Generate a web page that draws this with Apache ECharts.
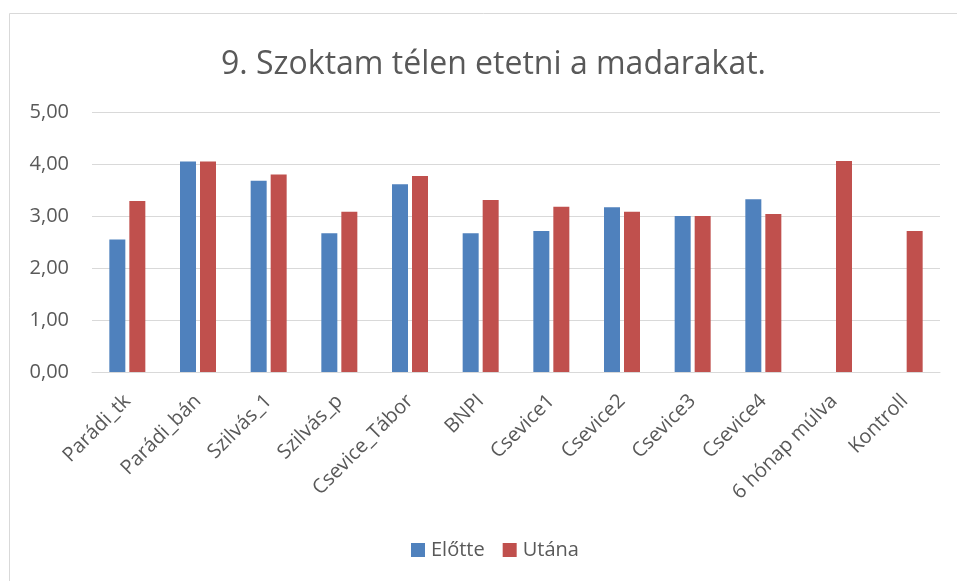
<!DOCTYPE html>
<html>
<head>
<meta charset="utf-8">
<script src="https://cdn.jsdelivr.net/npm/echarts@6/dist/echarts.min.js"></script>
<style>html,body{margin:0;padding:0;background:#fff;}#c{width:957px;height:581px;}</style>
</head>
<body>
<div id="c"></div>
<script>
var categories = ['Parádi_tk','Parádi_bán','Szilvás_1','Szilvás_p','Csevice_Tábor','BNPI','Csevice1','Csevice2','Csevice3','Csevice4','6 hónap múlva','Kontroll'];
var elotte = [2.55, 4.05, 3.68, 2.67, 3.61, 2.67, 2.71, 3.17, 3.00, 3.32, null, null];
var utana = [3.29, 4.05, 3.80, 3.08, 3.77, 3.31, 3.18, 3.08, 3.00, 3.04, 4.06, 2.71];
var titleText = '9. Szoktam télen etetni a madarakat.';
var seriesNames = ['Előtte', 'Utána'];

var font = '"Open Sans", "Noto Sans", sans-serif';
var chart = echarts.init(document.getElementById('c'));
chart.setOption({
  animation: false,
  title: {
    text: titleText, left: 216, top: 44,
    textStyle: {fontFamily: font, fontSize: 32, fontWeight: 'normal', color: '#595959'}
  },
  graphic: [{
    type: 'rect', shape: {x: 9.5, y: 13.5, width: 1000, height: 700},
    style: {fill: 'none', stroke: '#d9d9d9', lineWidth: 1}, silent: true
  }],
  legend: {
    bottom: 16, left: 406, itemWidth: 14, itemHeight: 14, itemGap: 18,
    icon: 'rect',
    textStyle: {fontFamily: font, fontSize: 20, color: '#595959', padding: [0,0,0,1]},
    data: seriesNames
  },
  grid: {left: 92, right: 17, top: 112, bottom: 209},
  xAxis: {
    type: 'category', data: categories,
    axisLine: {lineStyle: {color: '#d9d9d9', width: 1}},
    axisTick: {show: false},
    axisLabel: {rotate: 45, fontFamily: font, fontSize: 20, color: '#595959', margin: 26, interval: 0}
  },
  yAxis: {
    type: 'value', min: 0, max: 5, interval: 1,
    axisLine: {show: false}, axisTick: {show: false},
    splitLine: {lineStyle: {color: '#d9d9d9', width: 1}},
    axisLabel: {fontFamily: font, fontSize: 20, color: '#595959', margin: 23,
      formatter: function(v){ return v.toFixed(2).replace('.', ','); }}
  },
  series: [
    {name: seriesNames[0], type: 'bar', data: elotte, barWidth: 16, barGap: '25%',
      itemStyle: {color: '#4f81bd'}},
    {name: seriesNames[1], type: 'bar', data: utana, barWidth: 16, barGap: '25%',
      itemStyle: {color: '#c0504d'}}
  ]
});
</script>
</body>
</html>
